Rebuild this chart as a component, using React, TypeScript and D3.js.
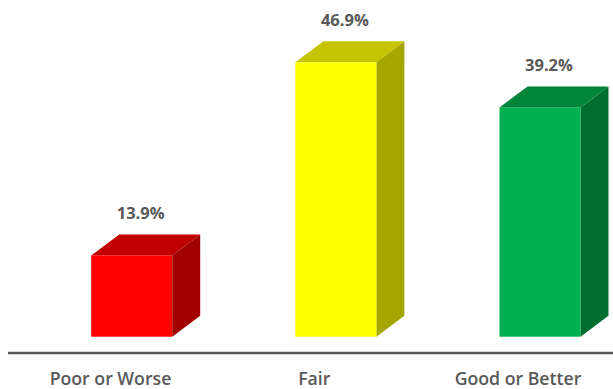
import React from "react";
import * as d3 from "d3";

const categories = ["Poor or Worse", "Fair", "Good or Better"];
const values = [13.9, 46.9, 39.2];
const frontColors = ["#FF0000", "#FFFF00", "#00B050"];
const topColors = ["#C00000", "#C4C400", "#00843A"];
const sideColors = ["#A00000", "#A6A600", "#006E2E"];

const W = 613;
const H = 389;

export default function App() {
  const x = d3.scalePoint<string>().domain(categories).range([131.7, 540]);
  const xLabel = d3.scalePoint<string>().domain(categories).range([110.5, 518]);
  const y = d3.scaleLinear().domain([0, 50]).range([336.7, 44.2]);
  const bw = 81;
  const dx = 28;
  const dy = 21;
  const font = "'Open Sans', 'Segoe UI', sans-serif";
  return (
    <svg
      width={W}
      height={H}
      style={{ position: "fixed", left: 0, top: 0, background: "#fff" }}
    >
      {categories.map((c, i) => {
        const cx = x(c)!;
        const x0 = cx - bw / 2;
        const x1 = cx + bw / 2;
        const yt = y(values[i]);
        const yb = y(0);
        const top = `M${x0},${yt} L${x0 + dx},${yt - dy} L${x1 + dx},${yt - dy} L${x1},${yt} Z`;
        const side = `M${x1},${yt} L${x1 + dx},${yt - dy} L${x1 + dx},${yb - dy} L${x1},${yb} Z`;
        return (
          <g key={c}>
            <path d={side} fill={sideColors[i]} />
            <path d={top} fill={topColors[i]} />
            <rect x={x0} y={yt} width={bw} height={yb - yt} fill={frontColors[i]} />
            <text
              x={cx + 9}
              y={yt - dy - 15}
              textAnchor="middle"
              fontFamily={font}
              fontWeight={700}
              fontSize={16.5}
              fill="#595959"
            >
              {values[i].toFixed(1)}%
            </text>
          </g>
        );
      })}
      <line x1={8} x2={W} y1={353} y2={353} stroke="#595959" strokeWidth={2.5} />
      {categories.map((c) => (
        <text
          key={c}
          x={xLabel(c)!}
          y={385}
          textAnchor="middle"
          fontFamily={font}
          fontWeight={600}
          fontSize={17.7}
          fill="#595959"
        >
          {c}
        </text>
      ))}
    </svg>
  );
}
